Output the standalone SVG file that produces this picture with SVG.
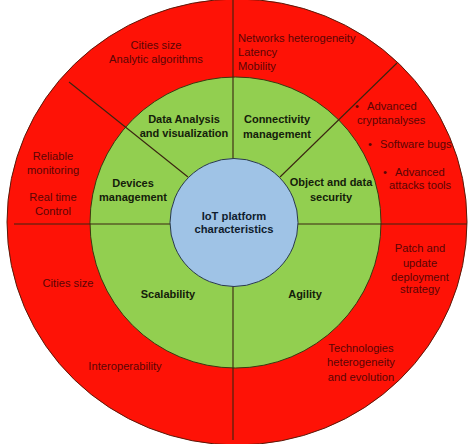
<svg xmlns="http://www.w3.org/2000/svg" width="474" height="444" viewBox="0 0 474 444">
<style>
.ring{font-family:"Liberation Sans",Arial,sans-serif;font-size:11.2px;fill:#5a0505;text-anchor:middle}
.ringL{font-family:"Liberation Sans",Arial,sans-serif;font-size:11.2px;fill:#5a0505}
.mid{font-family:"Liberation Sans",Arial,sans-serif;font-size:11px;font-weight:bold;fill:#14200a;text-anchor:middle}
.core{font-family:"Liberation Sans",Arial,sans-serif;font-size:11.2px;font-weight:bold;fill:#0f1c2e;text-anchor:middle}
.div{stroke:#3a2410;stroke-width:1.1;fill:none}
</style>
<rect width="474" height="444" fill="#ffffff"/>
<g id="outer-ring">
<ellipse cx="237" cy="222" rx="230" ry="223" fill="#fe1206" stroke="#5a1a0a" stroke-width="1"/>
</g>
<g id="middle-ring">
<circle cx="235.5" cy="222.5" r="145.5" fill="#92cf50" stroke="#3a3a10" stroke-width="1"/>
</g>
<g id="connectors">
<line class="div" x1="233" y1="0" x2="233" y2="160"/>
<line class="div" x1="233" y1="286" x2="233" y2="440"/>
<line class="div" x1="14" y1="224" x2="172" y2="224"/>
<line class="div" x1="296" y1="224" x2="467" y2="224"/>
<line class="div" x1="69" y1="82" x2="188" y2="177"/>
<line class="div" x1="397" y1="63" x2="280" y2="177"/>
</g>
<g id="core">
<circle cx="234" cy="222.5" r="64" fill="#9fc3e6" stroke="#2a3a4a" stroke-width="1"/>
<text class="core" x="234" y="220">IoT platform</text>
<text class="core" x="234" y="233">characteristics</text>
</g>
<g id="data-analysis">
<text class="mid" x="184" y="123">Data Analysis</text>
<text class="mid" x="184" y="137">and visualization</text>
<text class="ring" x="156" y="49">Cities size</text>
<text class="ring" x="156" y="63">Analytic algorithms</text>
</g>
<g id="connectivity">
<text class="mid" x="277" y="123">Connectivity</text>
<text class="mid" x="277" y="138">management</text>
<text class="ringL" x="238" y="42">Networks heterogeneity</text>
<text class="ringL" x="238" y="56">Latency</text>
<text class="ringL" x="238" y="70">Mobility</text>
</g>
<g id="security">
<text class="mid" x="331" y="186">Object and data</text>
<text class="mid" x="331" y="201">security</text>
<text class="ringL" x="355" y="110">•</text>
<text class="ringL" x="367" y="110">Advanced</text>
<text class="ringL" x="357" y="124">cryptanalyses</text>
<text class="ringL" x="368" y="148">•</text>
<text class="ringL" x="380" y="148">Software bugs</text>
<text class="ringL" x="383" y="176">•</text>
<text class="ringL" x="395" y="176">Advanced</text>
<text class="ringL" x="389" y="189">attacks tools</text>
</g>
<g id="devices">
<text class="mid" x="133" y="187">Devices</text>
<text class="mid" x="133" y="201">management</text>
<text class="ring" x="53" y="160">Reliable</text>
<text class="ring" x="53" y="174">monitoring</text>
<text class="ring" x="53" y="201">Real time</text>
<text class="ring" x="53" y="215">Control</text>
</g>
<g id="scalability">
<text class="mid" x="168" y="298">Scalability</text>
<text class="ring" x="68" y="287">Cities size</text>
<text class="ring" x="125" y="370">Interoperability</text>
</g>
<g id="agility">
<text class="mid" x="305" y="298">Agility</text>
<text class="ring" x="420" y="252">Patch and</text>
<text class="ring" x="420" y="267">update</text>
<text class="ring" x="420" y="281">deployment</text>
<text class="ring" x="420" y="293">strategy</text>
<text class="ring" x="361" y="352">Technologies</text>
<text class="ring" x="361" y="366">heterogeneity</text>
<text class="ring" x="361" y="381">and evolution</text>
</g>
</svg>
